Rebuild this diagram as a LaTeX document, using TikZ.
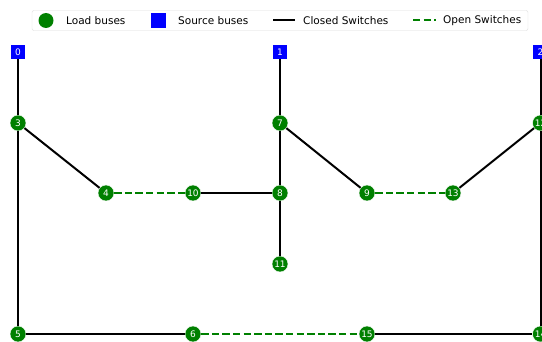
\documentclass[tikz,border=0pt]{standalone}
\usepackage{fontspec}
\setmainfont{DejaVu Sans}
\definecolor{mgreen}{RGB}{0,128,0}
\definecolor{mblue}{RGB}{0,0,255}
\tikzset{
  load/.style={circle,fill=mgreen,draw=white,line width=0.4pt,minimum size=16pt,inner sep=0pt,text=white,font=\fontsize{9}{9}\selectfont},
  source/.style={rectangle,fill=mblue,minimum size=14.5pt,inner sep=0pt,text=white,font=\fontsize{9}{9}\selectfont},
  closedsw/.style={black,line width=2pt},
  opensw/.style={mgreen,line width=2pt,dash pattern=on 7.4pt off 3.2pt},
  legtext/.style={anchor=west,inner sep=0pt,font=\fontsize{10.5}{10.5}\selectfont},
}
\begin{document}
\begin{tikzpicture}[x=1pt,y=-1pt]
\useasboundingbox (0,0) rectangle (542,342);
\clip (0,0) rectangle (542,342);
% nodes
\node[source] (n0) at (18,52) {0};
\node[source] (n1) at (280,52) {1};
\node[source] (n2) at (540.5,52) {2};
\node[load] (n3) at (18,123) {3};
\node[load] (n7) at (280,123) {7};
\node[load] (n12) at (540.5,123) {12};
\node[load] (n4) at (106,193) {4};
\node[load] (n10) at (193,193) {10};
\node[load] (n8) at (280,193) {8};
\node[load] (n9) at (367,193) {9};
\node[load] (n13) at (453,193) {13};
\node[load] (n11) at (280,264) {11};
\node[load] (n5) at (18,334) {5};
\node[load] (n6) at (193,334) {6};
\node[load] (n15) at (367,334) {15};
\node[load] (n14) at (540.5,334) {14};
% edges
\draw[closedsw] (n0) -- (n3);
\draw[closedsw] (n3) -- (n4);
\draw[closedsw] (n3) -- (n5);
\draw[closedsw] (n5) -- (n6);
\draw[closedsw] (n10) -- (n8);
\draw[closedsw] (n1) -- (n7);
\draw[closedsw] (n7) -- (n8);
\draw[closedsw] (n8) -- (n11);
\draw[closedsw] (n7) -- (n9);
\draw[closedsw] (n2) -- (n12);
\draw[closedsw] (n12) -- (n13);
\draw[closedsw] (n12) -- (n14);
\draw[closedsw] (n15) -- (n14);
\draw[opensw] (n4) -- (n10);
\draw[opensw] (n9) -- (n13);
\draw[opensw] (n6) -- (n15);
% legend
\node[draw={rgb,255:red,220;green,220;blue,220},fill=white,rounded corners=2pt,minimum width=496pt,minimum height=20pt,inner sep=0pt] (legend) at (280,20.5) {};
\node[circle,fill=mgreen,minimum size=15pt,inner sep=0pt] (lg1) at (46,20.5) {};
\node[legtext] (lt1) at (66,20.5) {Load buses};
\node[rectangle,fill=mblue,minimum size=15pt,inner sep=0pt] (lg2) at (158,20.5) {};
\node[legtext] (lt2) at (178,20.5) {Source buses};
\coordinate (la) at (273,20.5);
\coordinate (lb) at (295,20.5);
\draw[closedsw] (la) -- (lb);
\node[legtext] (lt3) at (303,20.5) {Closed Switches};
\coordinate (lc) at (413,20.5);
\coordinate (ld) at (436,20.5);
\draw[opensw] (lc) -- (ld);
\node[legtext] (lt4) at (443,20.5) {Open Switches};
\end{tikzpicture}
\end{document}
